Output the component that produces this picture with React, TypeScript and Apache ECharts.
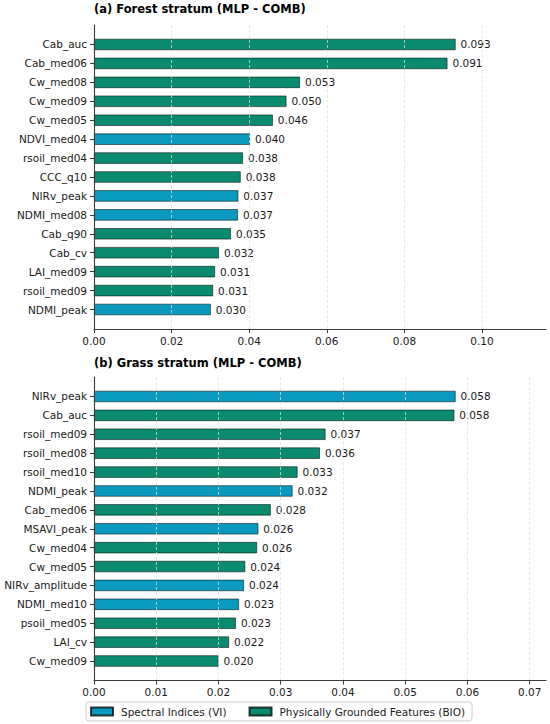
import React, { useEffect, useRef } from "react";
import * as echarts from "echarts";

// ---------- data ----------
const forestTitle = "(a) Forest stratum (MLP - COMB)";
const forestNames = [
  "Cab_auc", "Cab_med06", "Cw_med08", "Cw_med09", "Cw_med05",
  "NDVI_med04", "rsoil_med04", "CCC_q10", "NIRv_peak", "NDMI_med08",
  "Cab_q90", "Cab_cv", "LAI_med09", "rsoil_med09", "NDMI_peak",
];
const forestValues = [
  0.0932, 0.0911, 0.0531, 0.0496, 0.0461,
  0.0402, 0.0384, 0.0378, 0.0372, 0.0371,
  0.0353, 0.0322, 0.0312, 0.0307, 0.0301,
];
const forestGroups = [
  "BIO", "BIO", "BIO", "BIO", "BIO",
  "VI", "BIO", "BIO", "VI", "VI",
  "BIO", "BIO", "BIO", "BIO", "VI",
];
const forestTickStep = 0.02;
const forestTickMax = 0.1;

const grassTitle = "(b) Grass stratum (MLP - COMB)";
const grassNames = [
  "NIRv_peak", "Cab_auc", "rsoil_med09", "rsoil_med08", "rsoil_med10",
  "NDMI_peak", "Cab_med06", "MSAVI_peak", "Cw_med04", "Cw_med05",
  "NIRv_amplitude", "NDMI_med10", "psoil_med05", "LAI_cv", "Cw_med09",
];
const grassValues = [
  0.0581, 0.0579, 0.0372, 0.0363, 0.0327,
  0.0319, 0.0284, 0.0264, 0.0262, 0.0243,
  0.0241, 0.0233, 0.0228, 0.0217, 0.0200,
];
const grassGroups = [
  "VI", "BIO", "BIO", "BIO", "BIO",
  "VI", "BIO", "VI", "BIO", "BIO",
  "VI", "VI", "BIO", "BIO", "BIO",
];
const grassTickStep = 0.01;
const grassTickMax = 0.07;

const groupNames: Record<string, string> = {
  VI: "Spectral Indices (VI)",
  BIO: "Physically Grounded Features (BIO)",
};
const groupColors: Record<string, string> = {
  VI: "#0a9abf",
  BIO: "#0a8a6e",
};

// ---------- styling / layout ----------
const FONT = "DejaVu Sans";
const PLOT_LEFT = 94;
const PLOT_RIGHT = 546;
const PLOT_W = PLOT_RIGHT - PLOT_LEFT;
const SPINE = "#3a3a3a";
const TXT = "#1a1a1a";

export default function App() {
  const ref = useRef<HTMLDivElement>(null);

  useEffect(() => {
    if (!ref.current) return;
    const chart = echarts.init(ref.current, undefined, { renderer: "svg" });

    const grids: any[] = [];
    const xAxes: any[] = [];
    const yAxes: any[] = [];
    const series: any[] = [];

    const addPanel = (
      names: string[],
      values: number[],
      groups: string[],
      tickStep: number,
      tickMax: number,
      top: number,
      height: number
    ) => {
      const maxV = Math.max(...values);
      const xMax = maxV * 1.25;
      const n = names.length;
      const span = (n - 1 + 0.6) * 1.1;
      const pad = (span - n) / 2;
      const base = grids.length;

      // grid A: spines
      grids.push({ left: PLOT_LEFT, width: PLOT_W, top, height });
      xAxes.push({
        gridIndex: base, type: "value", min: 0, max: xMax, position: "bottom", z: 6,
        axisLine: { show: true, onZero: false, lineStyle: { color: SPINE, width: 1.1 } },
        axisTick: { show: false }, axisLabel: { show: false }, splitLine: { show: false },
      });
      yAxes.push({
        gridIndex: base, type: "value", min: 0, max: 1, position: "left", z: 6,
        axisLine: { show: true, onZero: false, lineStyle: { color: SPINE, width: 1.1 } },
        axisTick: { show: false }, axisLabel: { show: false }, splitLine: { show: false },
      });

      // grid B: bars + category axis
      const bTop = top + (height * pad) / span;
      const bH = (height * n) / span;
      grids.push({ left: PLOT_LEFT, width: PLOT_W, top: bTop, height: bH });
      xAxes.push({
        gridIndex: base + 1, type: "value", min: 0, max: xMax, show: false,
      });
      yAxes.push({
        gridIndex: base + 1, type: "category", data: names, inverse: true,
        axisLine: { show: false },
        axisTick: { show: true, alignWithLabel: true, length: 4, lineStyle: { color: SPINE, width: 1 } },
        axisLabel: { margin: 7, color: TXT, fontFamily: FONT, fontSize: 10.5 },
        splitLine: { show: false },
      });
      const barW = (bH / n) * 0.6;
      (["VI", "BIO"] as const).forEach((g) => {
        series.push({
          type: "bar",
          name: groupNames[g],
          xAxisIndex: base + 1,
          yAxisIndex: base + 1,
          barWidth: barW,
          barGap: "-100%",
          z: 2,
          itemStyle: { color: groupColors[g], borderColor: "rgba(0,0,0,0.75)", borderWidth: 0.7 },
          label: {
            show: true, position: "right", distance: 5,
            color: TXT, fontFamily: FONT, fontSize: 10.5,
            formatter: (p: any) => Number(p.value).toFixed(3),
          },
          data: values.map((v, i) => (groups[i] === g ? v : "-")),
        });
      });

      // grid C: ticks, tick labels, grid lines
      const cW = (PLOT_W * tickMax) / xMax;
      grids.push({ left: PLOT_LEFT, width: cW, top, height });
      xAxes.push({
        gridIndex: base + 2, type: "value", min: 0, max: tickMax, interval: tickStep,
        position: "bottom", z: 5,
        axisLine: { show: false },
        axisTick: { show: true, length: 4, lineStyle: { color: SPINE, width: 1 } },
        axisLabel: {
          margin: 6, color: TXT, fontFamily: FONT, fontSize: 10.5,
          formatter: (v: number) => v.toFixed(2),
        },
        splitLine: {
          show: true,
          lineStyle: { color: "rgba(225,225,225,0.9)", width: 0.8, type: [3, 2] },
        },
      });
      yAxes.push({
        gridIndex: base + 2, type: "value", min: 0, max: 1, show: false,
      });
    };

    addPanel(forestNames, forestValues, forestGroups, forestTickStep, forestTickMax, 25, 304);
    addPanel(grassNames, grassValues, grassGroups, grassTickStep, grassTickMax, 377, 303.5);

    const titleStyle = { fontFamily: FONT, fontSize: 11.5, fontWeight: "bold", color: "#000" };

    chart.setOption({
      animation: false,
      backgroundColor: "#ffffff",
      title: [
        { text: forestTitle, left: PLOT_LEFT, top: 3, padding: 0, textStyle: titleStyle },
        { text: grassTitle, left: PLOT_LEFT, top: 357, padding: 0, textStyle: titleStyle },
      ],
      legend: {
        data: [groupNames.VI, groupNames.BIO],
        left: 86,
        top: 702,
        orient: "horizontal",
        icon: "rect",
        itemWidth: 22,
        itemHeight: 8,
        itemGap: 22,
        padding: [4, 7, 4, 4],
        borderColor: "#cccccc",
        borderWidth: 1,
        borderRadius: 3,
        selectedMode: false,
        textStyle: { fontFamily: FONT, fontSize: 10.5, color: TXT, padding: [0, 0, 0, 3] },
      },
      grid: grids,
      xAxis: xAxes,
      yAxis: yAxes,
      series,
    });

    return () => chart.dispose();
  }, []);

  return (
    <div
      ref={ref}
      style={{ position: "fixed", left: 0, top: 0, width: 550, height: 724, background: "#fff" }}
    />
  );
}
